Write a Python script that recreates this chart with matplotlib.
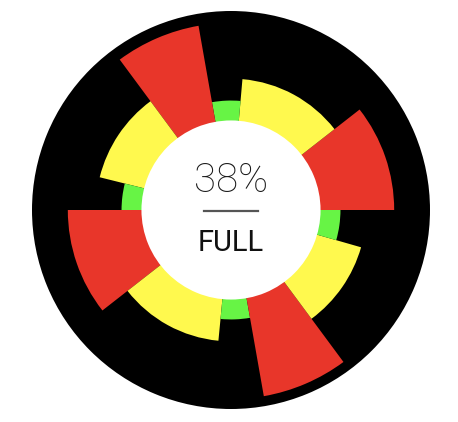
import numpy as np
import matplotlib
matplotlib.use('Agg')
import matplotlib.pyplot as plt

# segment start angles (degrees, counter-clockwise from east)
starts = [0, 38, 85, 100, 126.5, 166, 180, 218, 264.5, 280, 306.5, 344]
# radii (outer black circle = 100)
radii = [82, 66, 55, 94, 68, 55, 82, 66, 55, 95, 68, 55]
kinds = ['red', 'yellow', 'green'] * 4

palette = {'red': '#E8362A', 'yellow': '#FFF94E', 'green': '#67F445'}
center_value = '38%'
center_label = 'FULL'

ends = starts[1:] + [360]
widths = [e - s for s, e in zip(starts, ends)]

W, H = 458, 422
fig = plt.figure(figsize=(W / 100, H / 100), dpi=100)
cx, cy, R = 231, 210, 199
ax = fig.add_axes([(cx - R) / W, (H - cy - R) / H, 2 * R / W, 2 * R / H],
                  projection='polar')
ax.set_facecolor('black')
ax.set_ylim(0, 100)
ax.grid(False)
ax.set_xticks([])
ax.set_yticks([])
ax.spines['polar'].set_visible(False)

theta = np.deg2rad(starts)
ax.bar(theta, radii, width=np.deg2rad(widths), bottom=0, align='edge',
       color=[palette[k] for k in kinds], edgecolor='none', linewidth=0)

# white centre
ax.bar(0, 45, width=2 * np.pi, bottom=0, color='white', edgecolor='none', zorder=3)

fig.text(cx / W, 1 - 181 / H, center_value, ha='center', va='center',
         fontsize=29, family='Roboto', fontweight='light', color='#1a1a1a', zorder=5)
fig.text(cx / W, 1 - 243 / H, center_label, ha='center', va='center',
         fontsize=21, family='Roboto', fontweight='normal', color='#111111', zorder=5)
fig.add_artist(plt.Line2D([204 / W, 258 / W], [1 - 211 / H, 1 - 211 / H],
                          color='#555555', lw=1.6))

fig.savefig('out.png', dpi=100, facecolor='white')
